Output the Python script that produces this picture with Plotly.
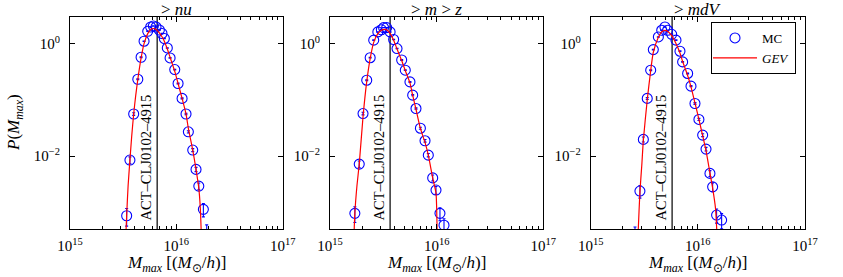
import numpy as np
import plotly.graph_objects as go

# ---------------- data (masses in units of 1e15 M_sun/h) ----------------
titles = ["> <i>nu</i>", "> <i>m</i> > <i>z</i>", "> <i>mdV</i>"]
act_mass = [6.6, 3.66, 5.75]  # observed cluster mass per panel (1e15)
act_label = "ACT\u2013CLJ0102\u20134915"

# Monte-Carlo histogram points
mc1_x = [3.41, 3.66, 3.97, 4.34, 4.66, 4.97, 5.38, 5.74, 6.08, 6.44, 6.92, 7.33, 7.71,
         8.22, 8.73, 9.66, 10.38, 11.32, 12.33, 12.97, 14.26, 15.31, 16.26, 17.95, 19.3]
mc1_y = [8.7e-4, 8.5e-3, 0.056, 0.232, 0.571, 1.10, 1.65, 1.97, 2.05, 1.97, 1.74, 1.51, 1.23,
         0.836, 0.555, 0.345, 0.195, 0.106, 0.056, 0.027, 0.0128, 5.8e-3, 2.93e-3, 1.13e-3, 3.5e-4]
mc1_e = [3.0e-4, 1.2e-3, 3e-3, 5e-3, 8e-3, 0.01, 0.012, 0.013, 0.013, 0.013, 0.012, 0.011, 0.01,
         8e-3, 7e-3, 5e-3, 4e-3, 2.5e-3, 1.8e-3, 1.2e-3, 8e-4, 5e-4, 4e-4, 3e-4, 2.5e-4]

mc2_x = [1.71, 1.88, 2.04, 2.21, 2.38, 2.57, 2.81, 3.03, 3.18, 3.40, 3.66, 3.95, 4.25,
         4.70, 5.08, 5.62, 5.96, 6.40, 7.04, 7.78, 8.35, 9.18, 9.86, 10.74, 11.72]
mc2_y = [9.6e-4, 7.2e-3, 0.057, 0.223, 0.56, 1.15, 1.61, 1.76, 1.92, 1.92, 1.61, 1.18, 0.815,
         0.51, 0.336, 0.208, 0.121, 0.070, 0.0313, 0.0187, 0.0104, 4.1e-3, 2.49e-3, 9.6e-4, 5.9e-4]
mc2_e = [3.0e-4, 1.0e-3, 3e-3, 5e-3, 8e-3, 0.01, 0.012, 0.013, 0.013, 0.013, 0.012, 0.01, 8e-3,
         7e-3, 5e-3, 4e-3, 3e-3, 2e-3, 1.3e-3, 1e-3, 7e-4, 5e-4, 4e-4, 2.5e-4, 1.8e-4]

mc3_x = [2.59, 2.88, 3.10, 3.37, 3.63, 3.84, 4.28, 4.60, 4.93, 5.22, 5.70, 6.25, 6.81,
         7.21, 8.03, 8.63, 9.40, 10.23, 11.09, 11.92, 12.97, 13.74, 14.96, 16.67]
mc3_y = [3.0e-4, 2.39e-3, 0.0198, 0.106, 0.336, 0.78, 1.31, 1.72, 1.97, 1.72, 1.46, 1.15, 0.731,
         0.472, 0.294, 0.175, 0.0861, 0.0448, 0.0236, 0.0133, 4.92e-3, 2.84e-3, 8.95e-4, 7.3e-4]
mc3_e = [2.5e-4, 6e-4, 2e-3, 4e-3, 7e-3, 0.01, 0.012, 0.013, 0.013, 0.013, 0.012, 0.011, 9e-3,
         7e-3, 5e-3, 4e-3, 3e-3, 2e-3, 1.4e-3, 1e-3, 6e-4, 5e-4, 2.5e-4, 2.2e-4]

# GEV fit curves
gev1_x = [3.30, 3.41, 3.52, 3.66, 3.80, 3.97, 4.15, 4.34, 4.66, 4.97, 5.38, 5.74, 6.05, 6.44,
          6.92, 7.33, 7.71, 8.22, 8.73, 9.66, 10.38, 11.32, 12.33, 12.97, 14.26, 15.31, 16.26,
          16.8, 17.1, 17.4]
gev1_y = [2e-4, 8.7e-4, 3e-3, 8.5e-3, 0.022, 0.056, 0.12, 0.23, 0.55, 1.0, 1.5, 1.78, 1.85, 1.78,
          1.55, 1.32, 1.10, 0.80, 0.57, 0.32, 0.195, 0.106, 0.056, 0.031, 0.0128, 5.8e-3, 2.7e-3,
          1.2e-3, 5e-4, 1.5e-4]

gev2_x = [1.66, 1.71, 1.79, 1.88, 2.04, 2.21, 2.38, 2.57, 2.81, 3.03, 3.25, 3.45, 3.66, 3.95,
          4.25, 4.70, 5.08, 5.62, 5.96, 6.40, 7.04, 7.78, 8.35, 9.18, 9.86, 10.1, 10.3]
gev2_y = [2e-4, 9.6e-4, 3e-3, 7.2e-3, 0.05, 0.21, 0.54, 1.05, 1.5, 1.72, 1.78, 1.72, 1.52, 1.15,
          0.80, 0.50, 0.33, 0.20, 0.12, 0.068, 0.031, 0.0175, 0.0104, 4.1e-3, 2.2e-3, 5e-4, 1.5e-4]

gev3_x = [2.72, 2.78, 2.88, 3.00, 3.10, 3.37, 3.63, 3.84, 4.28, 4.60, 4.93, 5.22, 5.70, 6.25,
          6.81, 7.21, 8.03, 8.63, 9.40, 10.23, 11.09, 11.92, 12.97, 13.74, 14.6, 15.0, 15.3]
gev3_y = [1.5e-4, 5e-4, 2.3e-3, 7e-3, 0.019, 0.10, 0.33, 0.70, 1.3, 1.62, 1.72, 1.65, 1.38, 1.0,
          0.68, 0.48, 0.27, 0.17, 0.088, 0.045, 0.023, 0.0125, 5e-3, 2.7e-3, 1.2e-3, 5e-4, 1.5e-4]

x_tickvals = [1e15, 1e16, 1e17]
x_ticktext = ["10<sup>15</sup>", "10<sup>16</sup>", "10<sup>17</sup>"]
y_tickvals = [1e-2, 1e0]
y_ticktext = ["10<sup>\u22122</sup>", "10<sup>0</sup>"]
y_min, y_max = 5e-4, 3.0

# ---------------- figure ----------------
W, H = 843, 277
UNIT = 1e15
FONT = "Liberation Serif"
BLUE = "rgb(0,0,255)"
RED = "rgb(255,0,0)"

panels_px = [(70.0, 282.7), (330.0, 543.3), (590.7, 805.0)]
top_px, bot_px = 16.7, 229.3

mc_x = [mc1_x, mc2_x, mc3_x]
mc_y = [mc1_y, mc2_y, mc3_y]
mc_e = [mc1_e, mc2_e, mc3_e]
gev_x = [gev1_x, gev2_x, gev3_x]
gev_y = [gev1_y, gev2_y, gev3_y]

fig = go.Figure()
minor_vals = [k * 10 ** p for p in (15, 16) for k in range(2, 10)]

for i in range(3):
    sfx = "" if i == 0 else str(i + 1)
    xa, ya = "x" + sfx, "y" + sfx
    x0, x1 = panels_px[i]
    fig.update_layout(**{
        "xaxis" + sfx: dict(
            type="log", range=[15, 17], domain=[x0 / W, x1 / W], anchor=ya,
            automargin=False,
            tickvals=x_tickvals, ticktext=x_ticktext, ticks="inside", ticklen=5,
            tickcolor="black", showline=True, linecolor="black", linewidth=1,
            mirror="allticks", showgrid=False, zeroline=False,
            minor=dict(tickvals=minor_vals, ticks="inside", ticklen=3, tickcolor="black",
                       showgrid=False),
            tickfont=dict(family=FONT, size=15, color="black"), ticklabelstandoff=3,
        ),
        "yaxis" + sfx: dict(
            type="log", range=[np.log10(y_min), np.log10(y_max)],
            domain=[1 - bot_px / H, 1 - top_px / H], anchor=xa,
            automargin=False,
            tickvals=y_tickvals, ticktext=y_ticktext, ticks="inside", ticklen=5,
            tickcolor="black", showline=True, linecolor="black", linewidth=1,
            mirror="allticks", showgrid=False, zeroline=False,
            tickfont=dict(family=FONT, size=15, color="black"), ticklabelstandoff=6,
        ),
    })

    # observed cluster line
    fig.add_trace(go.Scatter(
        x=[act_mass[i] * UNIT] * 2, y=[1e-6, 1e2], mode="lines",
        line=dict(color="black", width=1.2), xaxis=xa, yaxis=ya,
        showlegend=False, hoverinfo="skip"))

    # MC points
    fig.add_trace(go.Scatter(
        x=[v * UNIT for v in mc_x[i]], y=mc_y[i], mode="markers", name="MC",
        marker=dict(symbol="circle-open", size=10, color=BLUE, line=dict(width=1.1, color=BLUE)),
        error_y=dict(type="data", array=mc_e[i], visible=True, color=BLUE, thickness=1.1, width=1.5),
        xaxis=xa, yaxis=ya, showlegend=(i == 2)))

    # GEV curve
    fig.add_trace(go.Scatter(
        x=[v * UNIT for v in gev_x[i]], y=gev_y[i], mode="lines", name="<i>GEV</i>",
        line=dict(color=RED, width=1.2, shape="spline", smoothing=0.6),
        xaxis=xa, yaxis=ya, showlegend=(i == 2)))

    cx = (x0 + x1) / 2 / W
    # panel title
    fig.add_annotation(x=cx, y=1 - 9 / H, xref="paper", yref="paper", text=titles[i],
                       showarrow=False, font=dict(family=FONT, size=17, color="black"),
                       xanchor="center", yanchor="middle")
    # x-axis title
    fig.add_annotation(x=cx, y=1 - 264 / H, xref="paper", yref="paper",
                       text="<i>M<sub>max</sub></i> [(<i>M</i><sub>\u2299</sub>/<i>h</i>)]",
                       showarrow=False, font=dict(family=FONT, size=17, color="black"),
                       xanchor="center", yanchor="middle")
    # cluster label
    fig.add_annotation(x=np.log10(act_mass[i] * UNIT), y=0.033, xref=xa, yref=ya + " domain",
                       text=act_label, textangle=-90, showarrow=False,
                       font=dict(family=FONT, size=14.5, color="black"),
                       xanchor="right", yanchor="bottom", xshift=-1)

# y-axis title (left panel only)
fig.add_annotation(x=15 / W, y=1 - 123 / H, xref="paper", yref="paper",
                   text="<i>P</i>(<i>M<sub>max</sub></i>)", textangle=-90, showarrow=False,
                   font=dict(family=FONT, size=17, color="black"),
                   xanchor="center", yanchor="middle")

fig.update_layout(
    template="none",
    width=W, height=H, margin=dict(l=0, r=0, t=0, b=0, autoexpand=False),
    paper_bgcolor="white", plot_bgcolor="white",
    legend=dict(x=796 / W, y=1 - 22 / H, xanchor="right", yanchor="top",
                bgcolor="white", bordercolor="black", borderwidth=1,
                font=dict(family=FONT, size=13, color="black"), itemwidth=44,
                tracegroupgap=0, indentation=-4),
)

fig.write_html("out.html", config={"displayModeBar": False},
               post_script="document.body.style.margin='0px';")
